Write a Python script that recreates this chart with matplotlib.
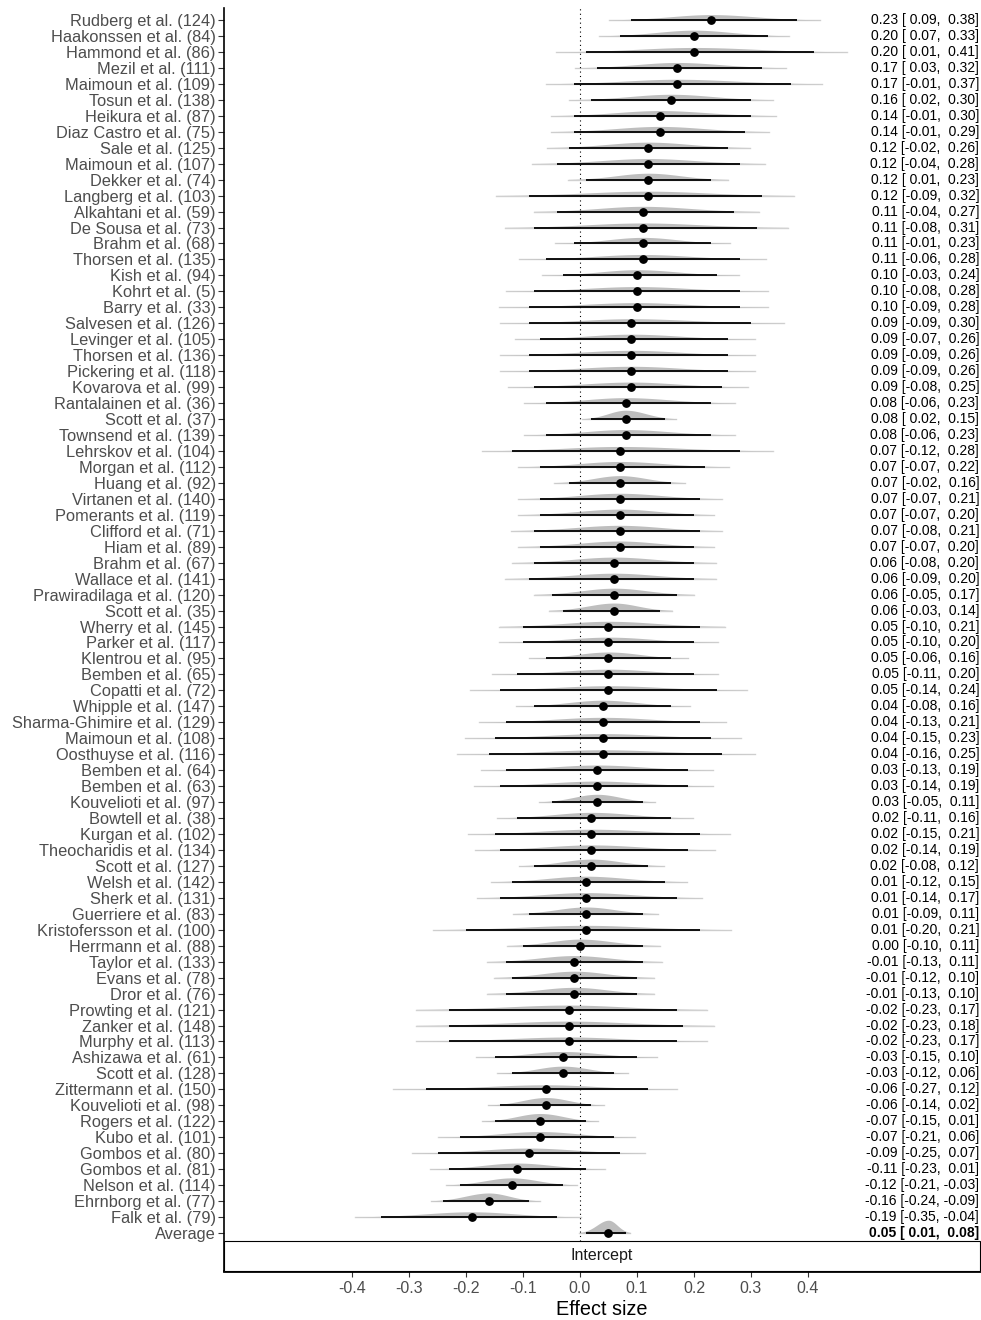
import matplotlib.pyplot as plt
import matplotlib.transforms as mtransforms
import numpy as np

plt.rcParams["font.family"] = ["Liberation Sans", "DejaVu Sans"]

# Studies from top to bottom, last row is the pooled estimate
studies = [
    "Rudberg et al. (124)", "Haakonssen et al. (84)", "Hammond et al. (86)", "Mezil et al. (111)",
    "Maimoun et al. (109)", "Tosun et al. (138)", "Heikura et al. (87)", "Diaz Castro et al. (75)",
    "Sale et al. (125)", "Maimoun et al. (107)", "Dekker et al. (74)", "Langberg et al. (103)",
    "Alkahtani et al. (59)", "De Sousa et al. (73)", "Brahm et al. (68)", "Thorsen et al. (135)",
    "Kish et al. (94)", "Kohrt et al. (5)", "Barry et al. (33)", "Salvesen et al. (126)",
    "Levinger et al. (105)", "Thorsen et al. (136)", "Pickering et al. (118)", "Kovarova et al. (99)",
    "Rantalainen et al. (36)", "Scott et al. (37)", "Townsend et al. (139)", "Lehrskov et al. (104)",
    "Morgan et al. (112)", "Huang et al. (92)", "Virtanen et al. (140)", "Pomerants et al. (119)",
    "Clifford et al. (71)", "Hiam et al. (89)", "Brahm et al. (67)", "Wallace et al. (141)",
    "Prawiradilaga et al. (120)", "Scott et al. (35)", "Wherry et al. (145)", "Parker et al. (117)",
    "Klentrou et al. (95)", "Bemben et al. (65)", "Copatti et al. (72)", "Whipple et al. (147)",
    "Sharma-Ghimire et al. (129)", "Maimoun et al. (108)", "Oosthuyse et al. (116)", "Bemben et al. (64)",
    "Bemben et al. (63)", "Kouvelioti et al. (97)", "Bowtell et al. (38)", "Kurgan et al. (102)",
    "Theocharidis et al. (134)", "Scott et al. (127)", "Welsh et al. (142)", "Sherk et al. (131)",
    "Guerriere et al. (83)", "Kristofersson et al. (100)", "Herrmann et al. (88)", "Taylor et al. (133)",
    "Evans et al. (78)", "Dror et al. (76)", "Prowting et al. (121)", "Zanker et al. (148)",
    "Murphy et al. (113)", "Ashizawa et al. (61)", "Scott et al. (128)", "Zittermann et al. (150)",
    "Kouvelioti et al. (98)", "Rogers et al. (122)", "Kubo et al. (101)", "Gombos et al. (80)",
    "Gombos et al. (81)", "Nelson et al. (114)", "Ehrnborg et al. (77)", "Falk et al. (79)",
    "Average",
]

estimate = [
    0.23, 0.20, 0.20, 0.17, 0.17, 0.16, 0.14, 0.14, 0.12, 0.12, 0.12, 0.12,
    0.11, 0.11, 0.11, 0.11, 0.10, 0.10, 0.10, 0.09, 0.09, 0.09, 0.09, 0.09,
    0.08, 0.08, 0.08, 0.07, 0.07, 0.07, 0.07, 0.07, 0.07, 0.07, 0.06, 0.06,
    0.06, 0.06, 0.05, 0.05, 0.05, 0.05, 0.05, 0.04, 0.04, 0.04, 0.04, 0.03,
    0.03, 0.03, 0.02, 0.02, 0.02, 0.02, 0.01, 0.01, 0.01, 0.01, 0.00, -0.01,
    -0.01, -0.01, -0.02, -0.02, -0.02, -0.03, -0.03, -0.06, -0.06, -0.07, -0.07, -0.09,
    -0.11, -0.12, -0.16, -0.19, 0.05,
]

ci_low = [
    0.09, 0.07, 0.01, 0.03, -0.01, 0.02, -0.01, -0.01, -0.02, -0.04, 0.01, -0.09,
    -0.04, -0.08, -0.01, -0.06, -0.03, -0.08, -0.09, -0.09, -0.07, -0.09, -0.09, -0.08,
    -0.06, 0.02, -0.06, -0.12, -0.07, -0.02, -0.07, -0.07, -0.08, -0.07, -0.08, -0.09,
    -0.05, -0.03, -0.10, -0.10, -0.06, -0.11, -0.14, -0.08, -0.13, -0.15, -0.16, -0.13,
    -0.14, -0.05, -0.11, -0.15, -0.14, -0.08, -0.12, -0.14, -0.09, -0.20, -0.10, -0.13,
    -0.12, -0.13, -0.23, -0.23, -0.23, -0.15, -0.12, -0.27, -0.14, -0.15, -0.21, -0.25,
    -0.23, -0.21, -0.24, -0.35, 0.01,
]

ci_high = [
    0.38, 0.33, 0.41, 0.32, 0.37, 0.30, 0.30, 0.29, 0.26, 0.28, 0.23, 0.32,
    0.27, 0.31, 0.23, 0.28, 0.24, 0.28, 0.28, 0.30, 0.26, 0.26, 0.26, 0.25,
    0.23, 0.15, 0.23, 0.28, 0.22, 0.16, 0.21, 0.20, 0.21, 0.20, 0.20, 0.20,
    0.17, 0.14, 0.21, 0.20, 0.16, 0.20, 0.24, 0.16, 0.21, 0.23, 0.25, 0.19,
    0.19, 0.11, 0.16, 0.21, 0.19, 0.12, 0.15, 0.17, 0.11, 0.21, 0.11, 0.11,
    0.10, 0.10, 0.17, 0.18, 0.17, 0.10, 0.06, 0.12, 0.02, 0.01, 0.06, 0.07,
    0.01, -0.03, -0.09, -0.04, 0.08,
]

x_ticks = [-0.4, -0.3, -0.2, -0.1, 0.0, 0.1, 0.2, 0.3, 0.4]

n = len(studies)
ypos = np.arange(n)[::-1]  # Rudberg on top, Average at 0

fig = plt.figure(figsize=(9.81, 13.2), dpi=100)
ax = fig.add_axes([224 / 981, 49 / 1320, 756 / 981, 1263 / 1320])

row_px = 15.96
y_bottom = -(1271 - 1233) / row_px
y_top = (1233 - 8) / row_px
ax.set_xlim(-0.6246, 0.7018)
ax.set_ylim(y_bottom, y_top)

# posterior-like density shapes (half violin above each row)
k = 0.0716
for y, m, lo, hi in zip(ypos, estimate, ci_low, ci_high):
    sd_l = max((m - lo) / 1.96, 1e-3)
    sd_r = max((hi - m) / 1.96, 1e-3)
    sd_avg = (sd_l + sd_r) / 2
    xs = np.linspace(m - 2.5 * sd_l, m + 2.5 * sd_r, 200)
    sd = np.where(xs < m, sd_l, sd_r)
    dens = np.exp(-0.5 * ((xs - m) / sd) ** 2) * k * sd_avg ** -0.6
    ax.plot([xs[0], xs[-1]], [y, y], color="#d3d3d3", lw=1.0, zorder=1)
    ax.fill_between(xs, y, y + dens, color="#bebebe", lw=0, zorder=1)

ax.axvline(0, ymin=(-0.5 - y_bottom) / (y_top - y_bottom), ymax=1, color="black",
           lw=0.8, ls=(0, (1, 3)), zorder=2)

ax.hlines(ypos, ci_low, ci_high, color="black", lw=1.3, zorder=3)
ax.scatter(estimate, ypos, s=28, color="black", zorder=4)

# estimate text on the right
trans = mtransforms.blended_transform_factory(ax.transAxes, ax.transData)
for i, (y, m, lo, hi) in enumerate(zip(ypos, estimate, ci_low, ci_high)):
    label = f"{m:.2f} [{lo:5.2f}, {hi:5.2f}]"
    ax.text(0.999, y, label, transform=trans, ha="right", va="center", fontsize=10,
            color="black", fontweight="bold" if i == n - 1 else "normal", zorder=5)

# facet strip at the bottom
ax.add_patch(plt.Rectangle((0, y_bottom), 1, -0.5 - y_bottom,
                           transform=trans, facecolor="white", edgecolor="black",
                           lw=0.8, zorder=6, clip_on=False))
ax.text(0.5, (y_bottom - 0.5) / 2, "Intercept", transform=trans, ha="center",
        va="center", fontsize=11.5, color="#1a1a1a", zorder=7)

ax.set_yticks(ypos)
ax.set_yticklabels(studies, fontsize=11.8, color="#4d4d4d")
ax.set_xticks(x_ticks)
ax.set_xticklabels([f"{t:.1f}" for t in x_ticks], fontsize=11.5, color="#4d4d4d")
ax.set_xlabel("Effect size", fontsize=14.3, labelpad=3)

ax.spines["top"].set_visible(False)
ax.spines["right"].set_visible(False)
ax.spines["left"].set_linewidth(1.2)
ax.spines["bottom"].set_linewidth(2.0)
ax.tick_params(axis="y", length=4, width=0.8, color="#333333", pad=2)
ax.tick_params(axis="x", length=4, width=0.8, color="#333333", pad=3)

fig.savefig("out.png", dpi=100)
